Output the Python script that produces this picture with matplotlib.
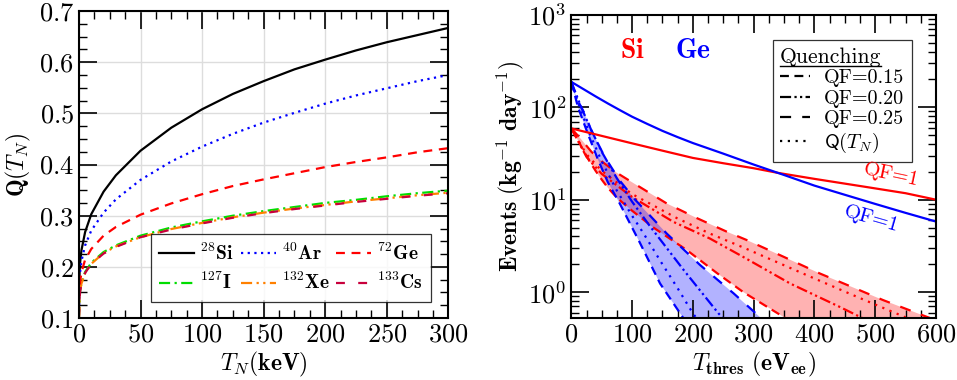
import matplotlib
matplotlib.use('Agg')
import matplotlib.pyplot as plt
from matplotlib.lines import Line2D
from matplotlib.ticker import MultipleLocator, LogLocator, NullFormatter

plt.rcParams['font.family'] = 'serif'
plt.rcParams['font.serif'] = ['cmr10']
plt.rcParams['mathtext.fontset'] = 'cm'
plt.rcParams['axes.formatter.use_mathtext'] = True

# ---- left panel: quenching factor vs nuclear recoil energy ----
tn = [0.01, 0.5, 1, 2, 5, 10, 20, 30, 50, 75, 100, 125, 150, 175, 200, 225, 250, 275, 300]
q_si = [0.118, 0.190, 0.210, 0.232, 0.268, 0.303, 0.347, 0.379, 0.427, 0.472, 0.508,
        0.538, 0.563, 0.586, 0.605, 0.623, 0.639, 0.653, 0.667]
q_ar = [0.112, 0.174, 0.191, 0.211, 0.242, 0.271, 0.306, 0.332, 0.370, 0.406, 0.435,
        0.460, 0.482, 0.501, 0.519, 0.535, 0.549, 0.563, 0.575]
q_ge = [0.105, 0.157, 0.172, 0.189, 0.214, 0.235, 0.261, 0.278, 0.302, 0.324, 0.342,
        0.358, 0.371, 0.383, 0.395, 0.405, 0.414, 0.424, 0.432]
q_i = [0.100, 0.140, 0.154, 0.168, 0.190, 0.208, 0.229, 0.242, 0.261, 0.277, 0.289,
       0.300, 0.309, 0.317, 0.325, 0.331, 0.338, 0.344, 0.349]
q_xe = [0.100, 0.139, 0.153, 0.167, 0.188, 0.206, 0.227, 0.240, 0.258, 0.274, 0.286,
        0.297, 0.306, 0.314, 0.321, 0.328, 0.334, 0.340, 0.345]
q_cs = [0.100, 0.139, 0.152, 0.166, 0.188, 0.206, 0.226, 0.239, 0.258, 0.273, 0.285,
        0.296, 0.305, 0.313, 0.320, 0.327, 0.333, 0.339, 0.344]

# ---- right panel: event rates vs threshold ----
t_si1 = [0, 50, 100, 150, 200, 250, 300, 340, 400, 486, 550, 600]
ev_si1 = [59, 49, 40.7, 33.9, 28.3, 24.8, 21.9, 19.5, 16.8, 13.7, 11.75, 10.0]
t_ge1 = [0, 20, 40, 60, 80, 100, 125, 150, 175, 200, 250, 300, 350, 400, 450, 500, 550, 600]
ev_ge1 = [188, 157, 131, 110, 93, 79, 66, 55.5, 47.5, 41, 31.5, 24, 18.5, 14.2, 11.3,
          9.0, 7.2, 5.8]

t_si25 = [0, 15, 33, 50, 75, 103, 157, 207, 256, 289, 350, 409, 460, 513, 585, 610]
ev_si25 = [59, 46, 33, 26, 19.5, 15, 9.1, 6.3, 4.5, 3.65, 2.4, 1.59, 1.15, 0.82, 0.54, 0.47]
t_si20 = [0, 12, 25, 50, 100, 168, 228, 283, 360, 442, 475, 490]
ev_si20 = [59, 42, 29, 19, 10.7, 5.75, 3.8, 2.4, 1.24, 0.69, 0.54, 0.48]
t_siq = [0, 12, 25, 50, 100, 174, 228, 285, 387, 470, 560, 570]
ev_siq = [59, 43, 31, 20.5, 11.5, 6.3, 4.3, 3.0, 1.53, 0.89, 0.50, 0.47]
t_si15 = [0, 10, 20, 30, 40, 50, 60, 75, 100, 135, 190, 240, 283, 349, 365]
ev_si15 = [59, 45, 34, 26, 20.5, 16.5, 13.5, 10.5, 7.6, 5.0, 2.85, 1.6, 1.0, 0.54, 0.46]

t_ge25 = [0, 10, 22, 33, 55, 80, 105, 157, 212, 267, 292, 320]
ev_ge25 = [188, 120, 85, 56, 29, 16, 10, 4.3, 1.96, 0.97, 0.69, 0.47]
t_ge20 = [0, 15, 30, 50, 75, 100, 130, 185, 242, 258]
ev_ge20 = [188, 105, 62, 33, 17, 9.5, 5.1, 1.73, 0.59, 0.46]
t_geq = [0, 15, 30, 50, 75, 100, 119, 146, 175, 200, 212]
ev_geq = [188, 95, 52, 26, 12.5, 6.7, 4.3, 2.2, 1.1, 0.59, 0.46]
t_ge15 = [0, 11, 27, 44, 60, 80, 113, 146, 179, 190]
ev_ge15 = [188, 100, 52, 27, 15.5, 9.0, 3.4, 1.24, 0.59, 0.46]

ls_15 = (0, (4, 2.5))
ls_20 = (0, (5, 1.5, 1, 1.5, 1, 1.5))
ls_25 = (0, (5, 5))
ls_q = (0, (1, 2.5))

fig = plt.figure(figsize=(9.57, 3.8), dpi=100)
ax1 = fig.add_axes([0.0825, 0.163, 0.386, 0.808])
ax2 = fig.add_axes([0.597, 0.163, 0.381, 0.798])

lw = 1.6
ax1.plot(tn, q_si, color='black', lw=lw, ls='-', label=r'$\mathbf{^{28}Si}$')
ax1.plot(tn, q_i, color='#00dd00', lw=lw, ls=(0, (5, 2, 1, 2)), label=r'$\mathbf{^{127}I}$')
ax1.plot(tn, q_ar, color='blue', lw=lw, ls=(0, (1, 2)), label=r'$\mathbf{^{40}Ar}$')
ax1.plot(tn, q_xe, color='#ff8000', lw=lw, ls=(0, (5, 2, 1, 2, 1, 2)), label=r'$\mathbf{^{132}Xe}$')
ax1.plot(tn, q_ge, color='red', lw=lw, ls=(0, (4, 3)), label=r'$\mathbf{^{72}Ge}$')
ax1.plot(tn, q_cs, color='#c8003c', lw=lw, ls=(0, (4, 6)), label=r'$\mathbf{^{133}Cs}$')

ax1.set_xlim(0, 300)
ax1.set_ylim(0.1, 0.7)
ax1.xaxis.set_major_locator(MultipleLocator(50))
ax1.xaxis.set_minor_locator(MultipleLocator(12.5))
ax1.yaxis.set_major_locator(MultipleLocator(0.1))
ax1.yaxis.set_minor_locator(MultipleLocator(0.025))
ax1.grid(True, which='major', color='#dddddd', lw=1.0)
ax1.set_axisbelow(True)
ax1.set_xlabel(r'$T_N\mathbf{(keV)}$', fontsize=17, labelpad=2)
ax1.set_ylabel(r'$\mathbf{Q(}T_N\mathbf{)}$', fontsize=17, labelpad=4)
leg1 = ax1.legend(ncol=3, loc='lower right', bbox_to_anchor=(0.954, 0.052),
                  fontsize=14, frameon=True, fancybox=False,
                  edgecolor='black', handlelength=1.8, handletextpad=0.3,
                  columnspacing=0.35, borderpad=0.45, labelspacing=0.4, borderaxespad=0)
leg1.get_frame().set_linewidth(0.9)

# right panel
ax2.fill(t_si25 + t_si15[::-1], ev_si25 + ev_si15[::-1], color='red', alpha=0.3, lw=0)
ax2.fill(t_ge25 + t_ge15[::-1], ev_ge25 + ev_ge15[::-1], color='blue', alpha=0.3, lw=0)

for c, curves in (('red', [(t_si15, ev_si15, ls_15), (t_si20, ev_si20, ls_20),
                           (t_si25, ev_si25, ls_25), (t_siq, ev_siq, ls_q)]),
                  ('blue', [(t_ge15, ev_ge15, ls_15), (t_ge20, ev_ge20, ls_20),
                            (t_ge25, ev_ge25, ls_25), (t_geq, ev_geq, ls_q)])):
    for t, ev, ls in curves:
        ax2.plot(t, ev, color=c, lw=lw, ls=ls)

ax2.plot(t_si1, ev_si1, color='red', lw=lw)
ax2.plot(t_ge1, ev_ge1, color='blue', lw=lw)

ax2.set_yscale('log')
ax2.set_xlim(0, 600)
ax2.set_ylim(0.524, 1000)
ax2.xaxis.set_major_locator(MultipleLocator(100))
ax2.xaxis.set_minor_locator(MultipleLocator(25))
ax2.yaxis.set_major_locator(LogLocator(base=10, numticks=10))
ax2.yaxis.set_minor_locator(LogLocator(base=10, subs=range(2, 10), numticks=10))
ax2.yaxis.set_minor_formatter(NullFormatter())
ax2.set_xlabel(r'$T_{\mathbf{thres}}\ \mathbf{(eV_{ee})}$', fontsize=17, labelpad=2)
ax2.set_ylabel(r'$\mathbf{Events\ (kg^{-1}\ day^{-1})}$', fontsize=17, labelpad=2)

ax2.text(100, 410, r'$\mathbf{Si}$', color='red', fontsize=20, ha='center', va='center')
ax2.text(200, 410, r'$\mathbf{Ge}$', color='blue', fontsize=20, ha='center', va='center')
ax2.text(526, 18.5, 'QF=1', color='red', fontsize=15, ha='center', va='center',
         rotation=-12, zorder=6)
ax2.text(494, 6.2, 'QF=1', color='blue', fontsize=15, ha='center', va='center',
         rotation=-16)

handles = [Line2D([], [], color='black', lw=lw, ls=ls_15),
           Line2D([], [], color='black', lw=lw, ls=ls_20),
           Line2D([], [], color='black', lw=lw, ls=ls_25),
           Line2D([], [], color='black', lw=lw, ls=ls_q)]
labels = ['QF=0.15', 'QF=0.20', 'QF=0.25', r'$\mathsf{Q}(T_N)$']
leg2 = ax2.legend(handles, labels, title='Quenching', title_fontsize=15.5, fontsize=14.5,
                  loc='upper left', bbox_to_anchor=(0.553, 0.917), alignment='left',
                  frameon=True, fancybox=False, edgecolor='black', handlelength=1.5,
                  handletextpad=0.7, borderpad=0.35, labelspacing=0.12, borderaxespad=0)
leg2.get_frame().set_linewidth(0.9)

for ax in (ax1, ax2):
    ax.tick_params(which='both', direction='in', top=True, right=True, labelsize=19)
    ax.tick_params(which='major', length=13, width=1.2)
    ax.tick_params(which='minor', length=6, width=1.0)
    for s in ax.spines.values():
        s.set_linewidth(1.5)

# underline the legend title
fig.canvas.draw()
bb = leg2.get_title().get_window_extent().transformed(fig.transFigure.inverted())
fig.add_artist(Line2D([bb.x0, bb.x1], [bb.y0 + 0.002, bb.y0 + 0.002],
                      transform=fig.transFigure, color='black', lw=1.0))

fig.savefig('out.png', dpi=100)
